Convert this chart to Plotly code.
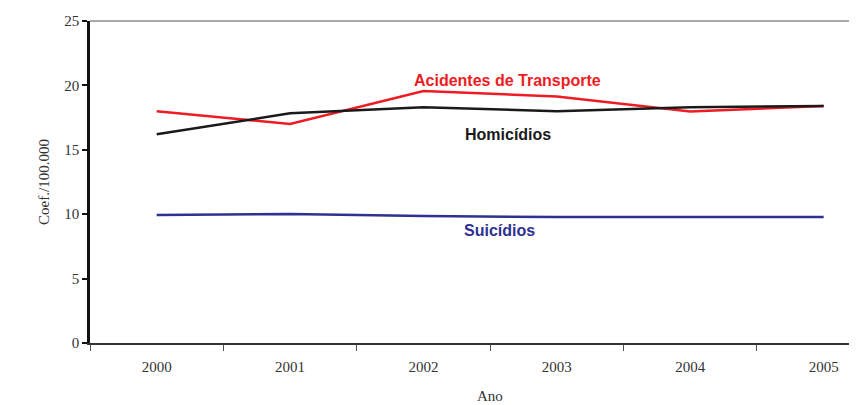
import plotly.graph_objects as go

anos = ["2000", "2001", "2002", "2003", "2004", "2005"]
acidentes = [18.0, 17.0, 19.57, 19.13, 17.97, 18.4]
homicidios = [16.2, 17.83, 18.3, 18.0, 18.3, 18.4]
suicidios = [9.94, 10.02, 9.86, 9.78, 9.78, 9.78]
y_ticks = [0, 5, 10, 15, 20, 25]

RED = "#ED1C24"
BLUE = "#2E3192"
BLACK = "#1a1a1a"

fig = go.Figure()
fig.add_trace(go.Scatter(x=anos, y=acidentes, mode="lines", line=dict(color=RED, width=2.5), name="Acidentes de Transporte"))
fig.add_trace(go.Scatter(x=anos, y=homicidios, mode="lines", line=dict(color=BLACK, width=2.5), name="Homicídios"))
fig.add_trace(go.Scatter(x=anos, y=suicidios, mode="lines", line=dict(color=BLUE, width=2.5), name="Suicídios"))

lab_font = dict(family="Liberation Sans, Arial, sans-serif", size=16)
fig.add_annotation(x=2.63, y=20.4, text="<b>Acidentes de Transporte</b>", showarrow=False, font=dict(color=RED, **lab_font))
fig.add_annotation(x=2.63, y=16.2, text="<b>Homicídios</b>", showarrow=False, font=dict(color=BLACK, **lab_font))
fig.add_annotation(x=2.57, y=8.75, text="<b>Suicídios</b>", showarrow=False, font=dict(color=BLUE, **lab_font))

serif = dict(family="Liberation Serif, Times New Roman, serif", size=15, color="#333333")

# x-axis title centred on the full category span
fig.add_annotation(x=2.5, xref="x", y=-0.165, yref="paper", yanchor="middle",
                   text="Ano", showarrow=False, font=serif)

# top frame line
fig.add_shape(type="line", xref="paper", yref="paper", x0=0, x1=1, y0=1, y1=1, line=dict(color="#555555", width=1))

fig.update_layout(
    width=849, height=397,
    margin=dict(l=82, r=0, t=13, b=62),
    paper_bgcolor="white", plot_bgcolor="white",
    showlegend=False,
    xaxis=dict(
        type="category", range=[-0.5, 5.25],
        showline=True, linecolor="#333333", linewidth=1.5,
        ticks="outside", ticklen=6, tickwidth=1, tickcolor="#555555",
        tickson="boundaries", showgrid=False, zeroline=False,
        tickfont=serif, ticklabelstandoff=9,
    ),
    yaxis=dict(
        range=[0, 25], tickvals=y_ticks,
        showline=True, linecolor="#111111", linewidth=2.5,
        ticks="outside", ticklen=5, tickwidth=2, tickcolor="#111111",
        showgrid=False, zeroline=False,
        tickfont=serif,
        title=dict(text="Coef./100.000", font=serif, standoff=12),
    ),
)

fig.write_html("out.html")
